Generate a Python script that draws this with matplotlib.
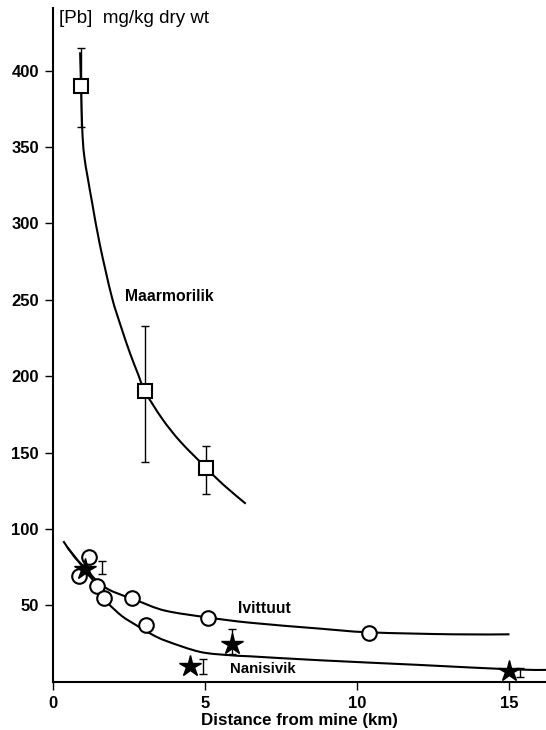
import matplotlib
matplotlib.use("Agg")
import matplotlib.pyplot as plt
from matplotlib.path import Path
from matplotlib.patches import PathPatch

plt.rcParams['font.family'] = ['Liberation Sans', 'DejaVu Sans']

# Maarmorilik (squares) with error bars
maar_x = [0.93, 3.03, 5.04]
maar_y = [390, 190, 140]
maar_lo = [363, 144, 123]
maar_hi = [415, 233, 154]
maar_curve_x = [0.90, 0.93, 0.97, 1.03, 1.15, 1.30, 1.55, 1.94, 2.25, 2.54, 2.81, 3.03, 3.6, 4.2, 5.04, 5.6, 6.34]
maar_curve_y = [412, 390, 362, 345, 330, 313, 286, 252, 232, 215, 201, 190, 172, 157, 140, 129, 116.5]

# Open circles
circ_x = [0.86, 1.19, 1.47, 1.69, 2.62, 3.06, 5.11, 10.39]
circ_y = [69, 81.5, 62.6, 54.5, 54.8, 36.8, 41.5, 32.1]

# Stars
star_x = [1.06, 4.51, 5.88, 14.97]
star_y = [74, 10.3, 24.5, 7.0]
# error bars drawn beside / through stars
sbar_x = [1.61, 4.95, 5.88, 15.36]
sbar_lo = [70.2, 4.8, 18.0, 3.3]
sbar_hi = [79.0, 15.1, 34.5, 8.8]

# Ivittuut curve
ivi_x = [0.35, 0.7, 1.06, 1.45, 1.83, 2.43, 2.81, 3.69, 5.11, 6.48, 8.79, 10.39, 13.17, 15.0]
ivi_y = [92, 82, 74.5, 66, 60.4, 55.5, 52.8, 46.5, 42, 38.6, 34.7, 32.3, 31.0, 31.0]

# Nanisivik curve
nan_x = [0.49, 0.8, 1.06, 1.3, 1.47, 1.69, 1.83, 2.27, 2.70, 3.25, 3.75, 4.84, 5.83, 6.48, 8.79, 12.0, 15.0, 16.2]
nan_y = [87.7, 80, 73, 67, 61.5, 54.5, 51, 43, 37.5, 31, 26.5, 19.5, 17.3, 16.6, 14.0, 11.0, 8.1, 7.7]

xticks = [0, 5, 10, 15]
yticks = [50, 100, 150, 200, 250, 300, 350, 400]


def smooth_path(xs, ys):
    """Bezier path passing through the given points (Catmull-Rom style handles)."""
    pts = list(zip(xs, ys))
    verts = [pts[0]]
    codes = [Path.MOVETO]
    n = len(pts)
    for i in range(n - 1):
        p0 = pts[i - 1] if i > 0 else pts[i]
        p1 = pts[i]
        p2 = pts[i + 1]
        p3 = pts[i + 2] if i + 2 < n else pts[i + 1]
        c1 = (p1[0] + (p2[0] - p0[0]) / 6.0, p1[1] + (p2[1] - p0[1]) / 6.0)
        c2 = (p2[0] - (p3[0] - p1[0]) / 6.0, p2[1] - (p3[1] - p1[1]) / 6.0)
        verts += [c1, c2, p2]
        codes += [Path.CURVE4, Path.CURVE4, Path.CURVE4]
    return Path(verts, codes)


fig = plt.figure(figsize=(5.46, 7.30), dpi=100)
ax = fig.add_axes([0.0965, 0.0662, 0.9035, 0.9228])

for cx, cy in [(maar_curve_x, maar_curve_y), (ivi_x, ivi_y), (nan_x, nan_y)]:
    ax.add_patch(PathPatch(smooth_path(cx, cy), facecolor='none', edgecolor='black',
                           lw=1.5, zorder=2, clip_on=False))

yerr = [[y - lo for y, lo in zip(maar_y, maar_lo)], [hi - y for y, hi in zip(maar_y, maar_hi)]]
ax.errorbar(maar_x, maar_y, yerr=yerr, fmt='none', ecolor='black', elinewidth=1.0,
            capsize=3, capthick=1.0, zorder=3)
ax.plot(maar_x, maar_y, 's', ms=10.5, mfc='white', mec='black', mew=1.5, zorder=4)

ax.plot(circ_x, circ_y, 'o', ms=10.5, mfc='white', mec='black', mew=1.5, zorder=4)

smid = [(lo + hi) / 2 for lo, hi in zip(sbar_lo, sbar_hi)]
serr = [[m - lo for m, lo in zip(smid, sbar_lo)], [hi - m for m, hi in zip(smid, sbar_hi)]]
ax.errorbar(sbar_x, smid, yerr=serr, fmt='none', ecolor='black', elinewidth=1.0,
            capsize=3, capthick=1.0, zorder=3)
ax.plot(star_x, star_y, '*', ms=16, mfc='black', mec='black', zorder=5)

ax.text(2.38, 252, 'Maarmorilik', fontsize=11.3, fontweight='bold', va='center', ha='left')
ax.text(6.07, 47.8, 'Ivittuut', fontsize=11.3, fontweight='bold', va='center', ha='left')
ax.text(5.83, 8.1, 'Nanisivik', fontsize=10.8, fontweight='bold', va='center', ha='left')
ax.text(0.2, 434, '[Pb]  mg/kg dry wt', fontsize=13.5, va='center', ha='left')

ax.set_xlim(0, 16.2)
ax.set_ylim(0, 441)
ax.set_xticks(xticks)
ax.set_yticks(yticks)
ax.set_xticklabels([str(t) for t in xticks], fontsize=12, fontweight='bold')
ax.set_yticklabels([str(t) for t in yticks], fontsize=12, fontweight='bold')
ax.tick_params(direction='out', length=6, width=1.0, pad=4)
ax.spines['top'].set_visible(False)
ax.spines['right'].set_visible(False)
ax.spines['left'].set_linewidth(1.5)
ax.spines['bottom'].set_linewidth(1.5)
ax.set_xlabel('Distance from mine (km)', fontsize=12.2, fontweight='bold', labelpad=2)

fig.savefig('out.png', dpi=100)
